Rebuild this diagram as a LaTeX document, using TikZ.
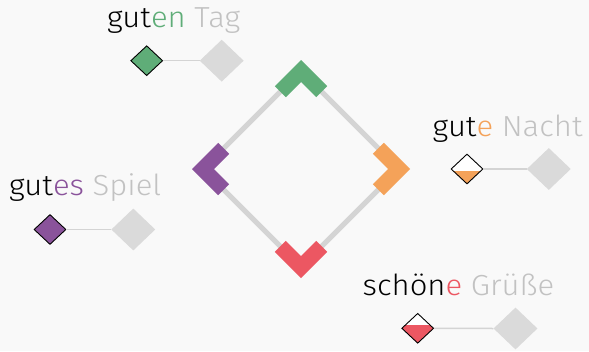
\documentclass[tikz,border=0pt]{standalone}
\usepackage{fontspec}
\setmainfont{Fira Sans Light}[FakeStretch=1.07]
\usetikzlibrary{shapes.geometric}
\definecolor{bg}{HTML}{F9F9F9}
\definecolor{cgreen}{HTML}{5FAD78}
\definecolor{cpurple}{HTML}{8A539B}
\definecolor{corange}{HTML}{F4A259}
\definecolor{cred}{HTML}{EC5762}
\definecolor{ctext}{HTML}{C2C2C2}
\definecolor{cdia}{HTML}{DADADA}
\definecolor{cline}{HTML}{D4D4D4}
\tikzset{
  lbl/.style={anchor=base west, inner sep=0pt, font=\fontsize{29}{32}\selectfont},
  keydia/.style={diamond, draw=black, line width=0.9pt, minimum width=32pt, minimum height=30pt, inner sep=0pt},
  greydia/.style={diamond, fill=cdia, minimum width=44pt, minimum height=42pt, inner sep=0pt},
  link/.style={draw=cline, line width=1.5pt},
  rail/.style={draw=cline, line width=5pt},
}
\begin{document}
\begin{tikzpicture}[x=1pt,y=-1pt]
\fill[bg] (0,0) rectangle (589,351);
\useasboundingbox (0,0) rectangle (589,351);
% central diamond rails
\coordinate (C) at (301,169);
\coordinate (rt) at (301,71);
\coordinate (rr) at (399,169);
\coordinate (rb) at (301,267);
\coordinate (rl) at (203,169);
\draw[rail] (rt) -- (rr) -- (rb) -- (rl) -- cycle;
% chevrons
\foreach \ang/\col in {0/cgreen,-90/corange,180/cred,90/cpurple}{
  \fill[\col, shift={(C)}, rotate=\ang]
    (0,-109) -- (-26.2,-82.8) -- (-15.2,-71.8) -- (0,-87) -- (15.2,-71.8) -- (26.2,-82.8) -- cycle;
}
% legend: guten Tag
\node[lbl] (t1) at (107,27) {gut\textcolor{cgreen}{en} \textcolor{ctext}{Tag}};
\node[keydia, fill=cgreen] (k1) at (146.7,60.7) {};
\node[greydia] (g1) at (221.7,60.7) {};
\draw[link] (k1.east) -- (g1.west);
% gutes Spiel
\node[lbl] (t2) at (9,195) {gut\textcolor{cpurple}{es} \textcolor{ctext}{Spiel}};
\node[keydia, fill=cpurple] (k2) at (50,229.5) {};
\node[greydia] (g2) at (133.3,229.5) {};
\draw[link] (k2.east) -- (g2.west);
% gute Nacht
\node[lbl] (t3) at (432.5,136) {gut\textcolor{corange}{e} \textcolor{ctext}{Nacht}};
\node[greydia] (g3) at (548.8,169) {};
\node[keydia, fill=white, path picture={\fill[corange] ([yshift=-60pt]path picture bounding box.south west) rectangle ([xshift=20pt,yshift=-2pt]path picture bounding box.east);}] (k3) at (467,169) {};
\draw[link] (k3.east) -- (g3.west);
% schoene Gruesse
\node[lbl] (t4) at (362.5,295) {schön\textcolor{cred}{e} \textcolor{ctext}{Grüße}};
\node[greydia] (g4) at (515.5,328.5) {};
\node[keydia, fill=white, path picture={\fill[cred] ([yshift=-60pt]path picture bounding box.south west) rectangle ([xshift=20pt,yshift=3pt]path picture bounding box.east);}] (k4) at (417.7,328.3) {};
\draw[link] (k4.east) -- (g4.west);
\end{tikzpicture}
\end{document}
